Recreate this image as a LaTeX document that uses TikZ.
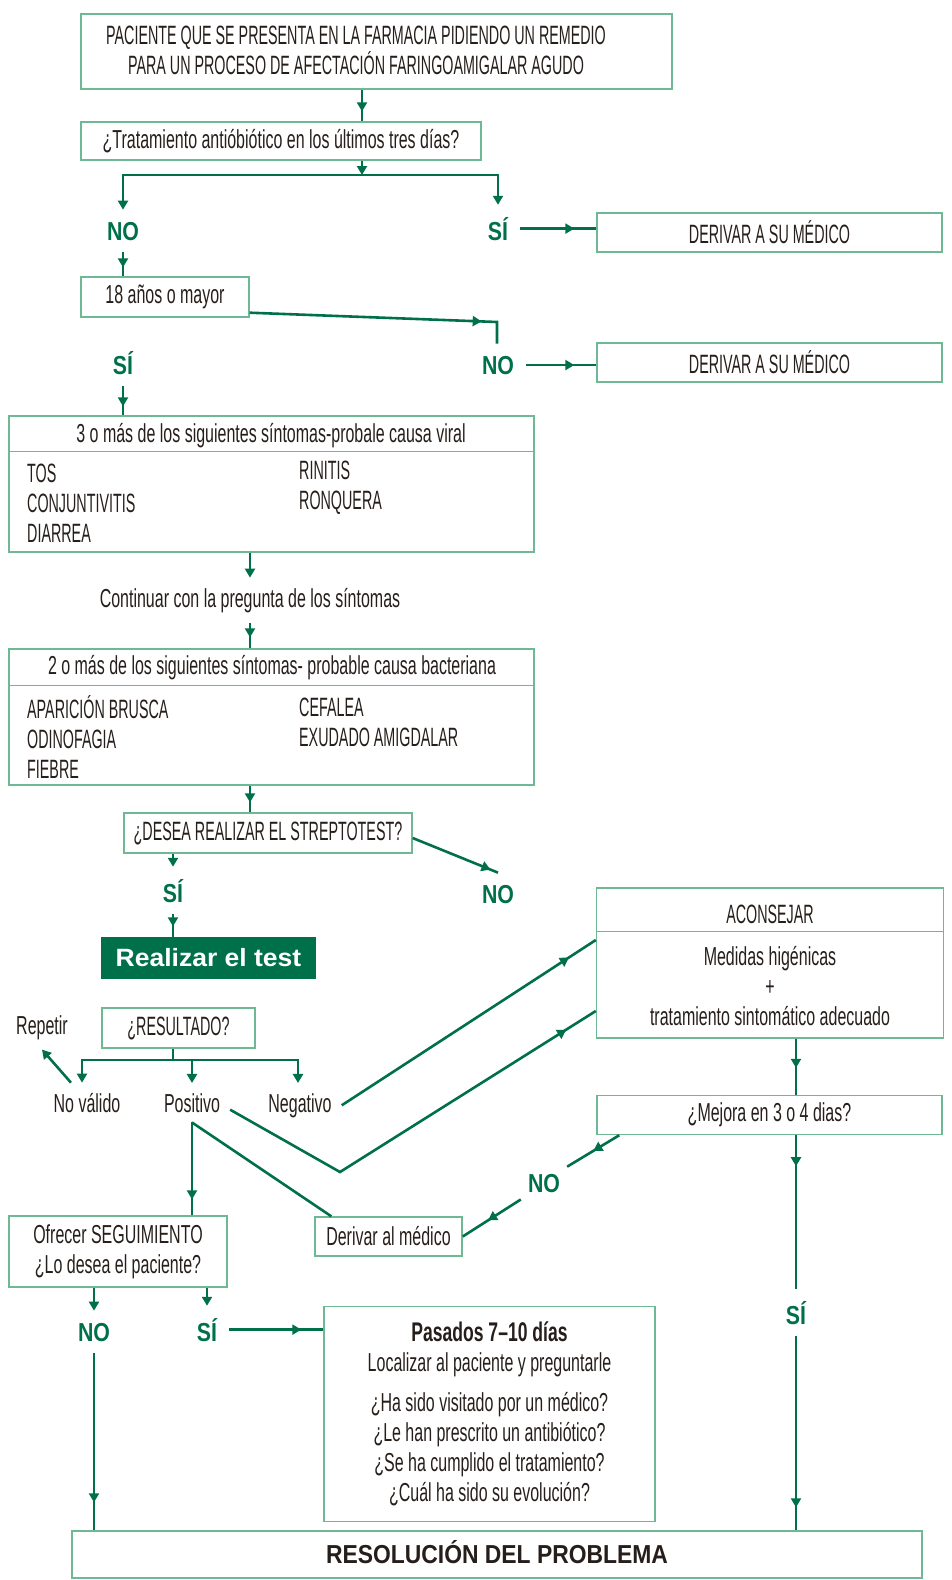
\documentclass[tikz,border=0pt]{standalone}
\usepackage{fontspec}
\setmainfont{Liberation Sans}
\newfontfamily\cnd{Liberation Sans}[FakeStretch=0.615]
\newfontfamily\capcnd{Liberation Sans}[FakeStretch=0.54]
\newfontfamily\anscnd{Liberation Sans}[FakeStretch=0.82]
\newfontfamily\pascnd{Liberation Sans}[FakeStretch=0.65]
\newfontfamily\rescnd{Liberation Sans}[FakeStretch=0.88]
\newfontfamily\testfont{Liberation Sans}[FakeStretch=1.06]
\usetikzlibrary{positioning}
\usetikzlibrary{arrows.meta}
\usetikzlibrary{decorations.markings}
\definecolor{flowgreen}{RGB}{0,112,74}
\definecolor{boxgreen}{RGB}{110,185,148}
\definecolor{ink}{RGB}{38,30,26}
\tikzset{
    box/.style = {rectangle, draw=boxgreen, line width=1.4pt, inner sep=0pt, text=ink, align=center, font=\cnd\fontsize{26}{30}\selectfont},
    capbox/.style = {box, font=\capcnd\fontsize{26.5}{30}\selectfont},
    txt/.style = {inner sep=0pt, text=ink, align=center, font=\cnd\fontsize{26}{30}\selectfont},
    captxt/.style = {txt, font=\capcnd\fontsize{26.5}{30}\selectfont},
    outcome/.style = {txt, inner sep=10pt, anchor=base},
    answer/.style = {inner sep=12pt, anchor=base, text=flowgreen, font=\anscnd\bfseries\fontsize{26}{26}\selectfont},
    divider/.style = {draw=boxgreen, line width=1.4pt},
    link/.style = {flowgreen, line width=2.6pt},
    endtip/.style = {-{Triangle[width=10pt,length=9pt]}},
    midtip/.style = {postaction={decorate}, decoration={markings, mark=at position #1 with {\arrow{Triangle[width=10pt,length=9pt]}}}},
}
\begin{document}
\begin{tikzpicture}[x=1pt, y=-1pt]
\useasboundingbox (0,0) rectangle (951,1580);
% boxes
\node[box, minimum width=591pt, minimum height=75pt] (top) at (376.5,51.5) {};
\node[captxt] (topt) at (356,50) {PACIENTE QUE SE PRESENTA EN LA FARMACIA PIDIENDO UN REMEDIO\\PARA UN PROCESO DE AFECTACIÓN FARINGOAMIGALAR AGUDO};
\node[box, minimum width=400pt, minimum height=38pt] (trat) at (281,141) {¿Tratamiento antióbiótico en los últimos tres días?};
\node[capbox, minimum width=345pt, minimum height=39pt] (der1) at (769.5,232.5) {DERIVAR A SU MÉDICO};
\node[box, minimum width=168pt, minimum height=40pt] (years) at (165,297) {18 años o mayor};
\node[capbox, minimum width=345pt, minimum height=39pt] (der2) at (769.5,362.5) {DERIVAR A SU MÉDICO};
%
\node[box, minimum width=525pt, minimum height=136pt] (viral) at (271.5,484) {};
\draw[divider] ([yshift=-36pt]viral.north west) -- ([yshift=-36pt]viral.north east);
\node[txt] (viralh) at (271,436) {3 o más de los siguientes síntomas-probale causa viral};
\node[captxt, anchor=west, align=left] (virall) at (27,503) {TOS\\CONJUNTIVITIS\\DIARREA};
\node[captxt, anchor=west, align=left] (viralr) at (299,488) {RINITIS\\RONQUERA};
\node[outcome] (cont) at (250,607) {Continuar con la pregunta de los síntomas};
\node[box, minimum width=525pt, minimum height=136pt] (bact) at (271.5,717) {};
\draw[divider] ([yshift=-37pt]bact.north west) -- ([yshift=-37pt]bact.north east);
\node[txt] (bacth) at (272,668) {2 o más de los siguientes síntomas- probable causa bacteriana};
\node[captxt, anchor=west, align=left] (bactl) at (27,737) {APARICIÓN BRUSCA\\ODINOFAGIA\\FIEBRE};
\node[captxt, anchor=west, align=left] (bactr) at (299,722) {CEFALEA\\EXUDADO AMIGDALAR};
%
\node[capbox, minimum width=288pt, minimum height=40pt] (strep) at (268,833) {¿DESEA REALIZAR EL STREPTOTEST?};
\node[box, fill=flowgreen, draw=flowgreen, text=white, font=\testfont\bfseries\fontsize{25}{30}\selectfont, minimum width=213pt, minimum height=40pt] (test) at (208.5,958) {Realizar el test};
\node[capbox, minimum width=153pt, minimum height=40pt] (result) at (178.5,1028) {¿RESULTADO?};
\node[box, minimum width=347pt, minimum height=150pt] (aconsejar) at (770,963) {};
\draw[divider] ([yshift=-44pt]aconsejar.north west) -- ([yshift=-44pt]aconsejar.north east);
\node[captxt] (aconsejarh) at (770,914) {ACONSEJAR};
\node[txt] (aconsejarb) at (770,986) {Medidas higénicas\\+\\tratamiento sintomático adecuado};
\node[box, minimum width=345pt, minimum height=39pt] (mejora) at (769.5,1115) {¿Mejora en 3 o 4 dias?};
\node[box, minimum width=218pt, minimum height=71pt] (ofrecer) at (118,1251.5) {Ofrecer SEGUIMIENTO\\¿Lo desea el paciente?};
\node[box, minimum width=147pt, minimum height=39pt] (dermed) at (388.5,1236.5) {Derivar al médico};
\node[box, minimum width=331pt, minimum height=215pt] (pasados) at (489.5,1414) {{\pascnd\bfseries\fontsize{27}{30}\selectfont Pasados 7–10 días}\\Localizar al paciente y preguntarle\\[10pt]¿Ha sido visitado por un médico?\\¿Le han prescrito un antibiótico?\\¿Se ha cumplido el tratamiento?\\¿Cuál ha sido su evolución?};
\node[box, minimum width=850pt, minimum height=47pt, text height=18.6pt, text depth=0pt, font=\rescnd\bfseries\fontsize{26}{30}\selectfont] (resol) at (497,1554.5) {RESOLUCIÓN DEL PROBLEMA};
% answers and outcomes
\node[answer] (no1) at (123,240) {NO};
\node[answer] (si1) at (498,240) {SÍ};
\node[answer] (si2) at (123,374) {SÍ};
\node[answer] (no2) at (498,374) {NO};
\node[answer] (si3) at (173,902) {SÍ};
\node[answer] (no3) at (498,903) {NO};
\node[answer, inner sep=7pt] (no4) at (544,1192) {NO};
\node[answer] (si4) at (796,1324) {SÍ};
\node[answer] (no5) at (94,1341) {NO};
\node[answer] (si5) at (207,1341) {SÍ};
\node[outcome] (repetir) at (42,1034) {Repetir};
\node[outcome] (novalid) at (87,1112) {No válido};
\node[outcome] (positivo) at (192,1112) {Positivo};
\node[outcome] (negativo) at (300,1112) {Negativo};
\coordinate (fork1) at (362,175);
\coordinate (bend1) at (497,322);
\coordinate (fork2) at (173,1060);
\coordinate (vee) at (340,1172);
% connectors
\draw[link, midtip=-10pt] (top.south -| fork1) -- (trat.north -| fork1);
\draw[link, endtip] (trat.south -| fork1) -- (fork1);
\draw[link, {Triangle[width=10pt,length=9pt]}-{Triangle[width=10pt,length=9pt]}] (no1.north) |- (fork1) -| (si1.north);
\draw[link, midtip=-22pt] (si1.east) -- (si1.east -| der1.west);
\draw[link, midtip=-9pt] (no1.south) -- (no1.south |- years.north);
\draw[link, midtip=-37pt] ([yshift=5pt]years.south east) -- (bend1) -- (bend1 |- no2.north);
\draw[link, midtip=-22pt] (no2.east) -- (no2.east -| der2.west);
\draw[link, midtip=-9pt] (si2.south) -- (si2.south |- viral.north);
\draw[link, endtip] (viral.south -| cont) -- (cont.north);
\draw[link, midtip=-11pt] (cont.south) -- (cont.south |- bact.north);
\draw[link, midtip=-10pt] (bact.south -| cont) -- (strep.north -| cont);
\draw[link, endtip] (strep.south -| si3) -- (si3.north);
\draw[link, midtip=-8pt] ([yshift=-5pt]strep.east) -- (no3.north);
\draw[link, midtip=-11pt] (si3.south) -- (si3.south |- test.north);
%
\draw[link] (result.south -| fork2) -- (fork2);
\draw[link, endtip] (fork2) -| ([xshift=-5pt]novalid.north);
\draw[link, endtip] (fork2) -| (positivo.north);
\draw[link, endtip] (fork2) -| ([xshift=-2pt]negativo.north);
\draw[link, endtip] ([xshift=-16pt]novalid.north) -- (repetir.south);
\draw[link, midtip=-32pt] (negativo.east) -- ([yshift=23pt]aconsejar.west);
\draw[link, midtip=-35pt] ([yshift=-7pt]positivo.east) -- (vee) -- ([yshift=-48pt]aconsejar.west);
\draw[link, midtip=-16pt] (positivo.south) -- (positivo.south |- ofrecer.north);
\draw[link] (positivo.south) -- ([xshift=17pt]dermed.north west);
\draw[link, midtip=-27pt] (aconsejar.south -| si4) -- (mejora.north -| si4);
\draw[link, midtip=0.5] ([xshift=23pt]mejora.south west) -- (no4.north east);
\draw[link, midtip=-30pt] (no4.south west) -- (dermed.east);
\draw[link, midtip=31pt] (mejora.south -| si4) -- (si4.north);
\draw[link, midtip=-23pt] (si4.south) -- (si4.south |- resol.north);
%
\draw[link, endtip] (ofrecer.south -| no5) -- (no5.north);
\draw[link, endtip] (ofrecer.south -| si5) -- (si5.north);
\draw[link, midtip=-22pt] (si5.east) -- (si5.east -| pasados.west);
\draw[link, midtip=-28pt] (no5.south) -- (no5.south |- resol.north);
\end{tikzpicture}
\end{document}
